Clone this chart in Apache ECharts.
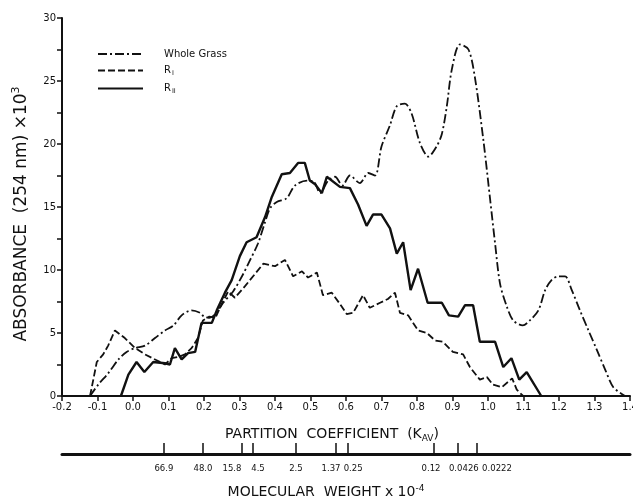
<!DOCTYPE html>
<html>
<head>
<meta charset="utf-8">
<script src="https://cdn.jsdelivr.net/npm/echarts@6/dist/echarts.min.js"></script>
<style>
    html, body { margin: 0; padding: 0; background: #fff; }
    #chart { width: 633px; height: 501px; }
</style>
</head>
<body>
<div id="chart"></div>
<script>
// [K_av, absorbance x10^3]
var wholeGrass = [[-0.121,0],[-0.098,0.9],[-0.07,1.8],[-0.041,2.9],[-0.018,3.5],[0.006,3.8],[0.034,4.0],[0.062,4.6],[0.09,5.2],[0.114,5.6],[0.137,6.4],[0.165,6.8],[0.189,6.6],[0.2,6.3],[0.215,6.2],[0.232,6.5],[0.254,7.4],[0.282,8.3],[0.307,9.5],[0.33,10.8],[0.352,12.1],[0.372,13.8],[0.386,14.9],[0.405,15.4],[0.433,15.7],[0.456,16.7],[0.49,17.1],[0.51,17.0],[0.527,16.1],[0.55,17.1],[0.569,17.4],[0.59,16.7],[0.611,17.5],[0.639,16.9],[0.663,17.7],[0.682,17.5],[0.70,19.8],[0.724,21.5],[0.743,23.0],[0.766,23.2],[0.785,22.4],[0.808,20.1],[0.832,19.0],[0.855,19.8],[0.87,20.8],[0.884,23.0],[0.898,25.9],[0.921,27.9],[0.945,27.5],[0.963,25.3],[0.987,20.3],[1.006,15.6],[1.02,12.1],[1.034,8.9],[1.053,7.1],[1.071,6.0],[1.098,5.6],[1.118,6.0],[1.142,6.8],[1.161,8.4],[1.179,9.2],[1.198,9.5],[1.217,9.5],[1.236,8.4],[1.259,6.8],[1.283,5.2],[1.306,3.7],[1.33,2.1],[1.353,0.7],[1.386,0]];
var rOne = [[-0.121,0],[-0.102,2.7],[-0.084,3.3],[-0.07,4.0],[-0.051,5.2],[-0.023,4.6],[0.006,3.8],[0.034,3.3],[0.062,2.9],[0.09,2.5],[0.109,3.0],[0.128,3.1],[0.146,3.3],[0.165,3.8],[0.183,4.6],[0.197,6.0],[0.215,6.3],[0.232,6.2],[0.25,7.3],[0.268,8.3],[0.287,7.8],[0.315,8.7],[0.344,9.7],[0.367,10.5],[0.4,10.3],[0.428,10.8],[0.451,9.5],[0.476,9.9],[0.493,9.4],[0.518,9.8],[0.535,8.0],[0.56,8.2],[0.583,7.3],[0.602,6.5],[0.62,6.6],[0.648,8.0],[0.667,7.0],[0.696,7.4],[0.718,7.7],[0.738,8.2],[0.752,6.6],[0.775,6.4],[0.803,5.2],[0.828,5.0],[0.851,4.4],[0.873,4.3],[0.901,3.5],[0.93,3.3],[0.949,2.3],[0.977,1.3],[0.997,1.5],[1.014,0.9],[1.039,0.7],[1.068,1.4],[1.081,0.5],[1.099,0]];
var rTwo = [[-0.034,0],[-0.013,1.7],[0.01,2.7],[0.032,1.9],[0.057,2.7],[0.09,2.6],[0.104,2.5],[0.118,3.8],[0.137,2.9],[0.155,3.4],[0.175,3.5],[0.193,5.8],[0.222,5.8],[0.236,6.8],[0.259,8.2],[0.278,9.2],[0.301,11.1],[0.32,12.2],[0.348,12.6],[0.372,14.2],[0.391,15.8],[0.419,17.6],[0.442,17.7],[0.465,18.5],[0.484,18.5],[0.498,17.1],[0.513,16.8],[0.532,16.1],[0.546,17.4],[0.583,16.6],[0.611,16.5],[0.634,15.2],[0.658,13.5],[0.676,14.4],[0.70,14.4],[0.724,13.3],[0.743,11.3],[0.761,12.2],[0.782,8.4],[0.803,10.1],[0.83,7.4],[0.87,7.4],[0.89,6.4],[0.916,6.3],[0.935,7.2],[0.958,7.2],[0.977,4.3],[1.02,4.3],[1.043,2.3],[1.066,3.0],[1.088,1.3],[1.109,1.9],[1.15,0]];

// molecular weight scale, placed by K_av
var mwKav = [0.087, 0.197, 0.307, 0.338, 0.459, 0.572, 0.606, 0.848, 0.915, 0.969];
var mwLabels = ['66.9', '48.0', '15.8', '4.5', '2.5', '1.37', '0.25', '0.12', '0.0426', '0.0222'];

var font = 'DejaVu Sans';
var ink = '#111';
// crowded molecular weight labels are nudged off their ticks like in the print
var mwNudge = {
    '15.8': 'l10', '4.5': 'r5', '1.37': 'l5', '0.25': 'r5', '0.12': 'l3', '0.0426': 'r6', '0.0222': 'r20'
};
var mwRich = {};
['l3', 'l5', 'l10', 'r5', 'r6', 'r20'].forEach(function(k) {
    var n = parseInt(k.slice(1), 10) * 2;
    mwRich[k] = {
        fontSize: 8.5, fontFamily: font, color: ink,
        padding: k[0] === 'l' ? [0, n, 0, 0] : [0, 0, 0, n]
    };
});

var chart = echarts.init(document.getElementById('chart'));

var option = {
    animation: false,
    backgroundColor: '#fff',
    textStyle: { fontFamily: font, color: ink },
    legend: {
        orient: 'vertical',
        left: 97,
        top: 49,
        padding: 0,
        itemWidth: 45,
        itemHeight: 10,
        itemGap: 6.5,
        itemStyle: { opacity: 0 },
        data: ['Whole Grass', 'R_I', 'R_II'],
        formatter: function(name) {
            if (name === 'R_I') return 'R{sub|I}';
            if (name === 'R_II') return 'R{sub|II}';
            return name;
        },
        textStyle: {
            fontFamily: font,
            fontSize: 10,
            color: ink,
            padding: [0, 0, 0, 16],
            rich: {
                sub: { fontSize: 6.5, verticalAlign: 'bottom', padding: [6, 0, 0, 1], fontFamily: font }
            }
        }
    },
    grid: { left: 62, right: 3, top: 18, bottom: 105, containLabel: false, outerBoundsMode: 'none' },
    xAxis: [{
        type: 'value',
        min: -0.2,
        max: 1.4,
        interval: 0.1,
        splitLine: { show: false },
        axisLine: { onZero: false, lineStyle: { color: ink, width: 2 } },
        axisTick: { length: 5, lineStyle: { color: ink, width: 1.5 } },
        axisLabel: {
            margin: 6,
            fontSize: 10,
            color: ink,
            fontFamily: font,
            formatter: function(v) { return v.toFixed(1); }
        },
        name: 'PARTITION  COEFFICIENT  (K{sub|AV})',
        nameLocation: 'middle',
        nameGap: 30,
        nameTextStyle: {
            fontSize: 14,
            color: ink,
            fontFamily: font,
            padding: [0, 28, 0, 0],
            rich: { sub: { fontSize: 9, verticalAlign: 'bottom', padding: [8, 0, 0, 0], fontFamily: font } }
        }
    }, {
        type: 'value',
        position: 'bottom',
        offset: 58,
        min: -0.2,
        max: 1.4,
        splitLine: { show: false },
        axisLine: { onZero: false, lineStyle: { color: ink, width: 3 } },
        axisTick: {
            inside: true,
            length: 11,
            customValues: mwKav,
            lineStyle: { color: ink, width: 1.5 }
        },
        axisLabel: {
            margin: 10,
            fontSize: 8.5,
            color: ink,
            fontFamily: font,
            hideOverlap: false,
            customValues: mwKav,
            formatter: function(v) {
                var i = mwKav.indexOf(v);
                if (i < 0) return '';
                var s = mwLabels[i];
                return mwNudge[s] ? '{' + mwNudge[s] + '|' + s + '}' : s;
            },
            rich: mwRich
        },
        name: 'MOLECULAR  WEIGHT x 10{sup|-4}',
        nameLocation: 'middle',
        nameGap: 30,
        nameTextStyle: {
            fontSize: 14,
            color: ink,
            fontFamily: font,
            padding: [0, 40, 0, 0],
            rich: { sup: { fontSize: 9, verticalAlign: 'top', padding: [0, 0, 8, 0], fontFamily: font } }
        }
    }],
    yAxis: {
        type: 'value',
        min: 0,
        max: 30,
        interval: 2.5,
        splitLine: { show: false },
        axisLine: { show: true, onZero: false, lineStyle: { color: ink, width: 2 } },
        axisTick: { length: 5, lineStyle: { color: ink, width: 1.5 } },
        axisLabel: {
            margin: 6,
            fontSize: 10,
            color: ink,
            fontFamily: font,
            formatter: function(v) { return v % 5 === 0 ? String(v) : ''; }
        },
        name: 'ABSORBANCE  (254 nm) \u00d710{sup|3}',
        nameLocation: 'middle',
        nameGap: 30,
        nameTextStyle: {
            fontSize: 17,
            color: ink,
            fontFamily: font,
            padding: [0, 14, 0, 0],
            rich: { sup: { fontSize: 11, verticalAlign: 'top', padding: [0, 0, 10, 0], fontFamily: font } }
        }
    },
    series: [{
        name: 'Whole Grass',
        type: 'line',
        data: wholeGrass,
        symbol: 'none',
        smooth: 0.3,
        itemStyle: { color: ink },
        lineStyle: { color: ink, width: 1.8, type: [9, 3, 2, 3] }
    }, {
        name: 'R_I',
        type: 'line',
        data: rOne,
        symbol: 'none',
        itemStyle: { color: ink },
        lineStyle: { color: ink, width: 1.8, type: [7, 3] }
    }, {
        name: 'R_II',
        type: 'line',
        data: rTwo,
        symbol: 'none',
        itemStyle: { color: ink },
        lineStyle: { color: ink, width: 2.4, type: 'solid' }
    }]
};
chart.setOption(option);
</script>
</body>
</html>
